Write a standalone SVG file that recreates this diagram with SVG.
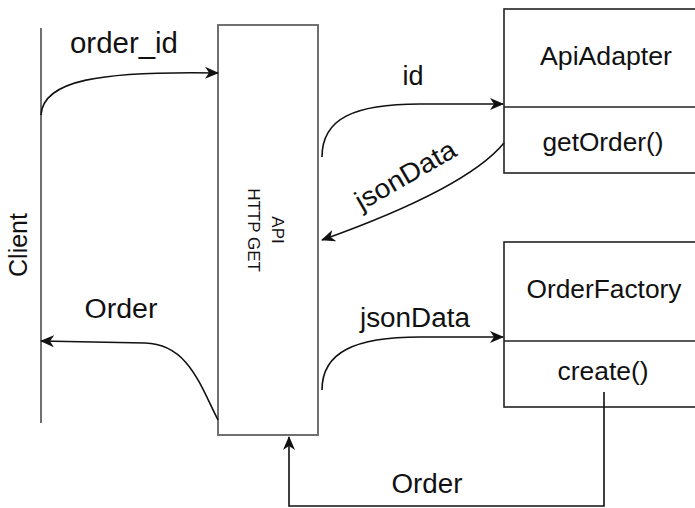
<svg xmlns="http://www.w3.org/2000/svg" width="695" height="508" viewBox="0 0 695 508">
<style>
text{font-family:"Liberation Sans",Arial,sans-serif;fill:#111}
.lbl{font-size:27px;text-anchor:middle}
.gray{fill:none;stroke:#707070;stroke-width:2}
.box{fill:#fff;stroke:#222;stroke-width:1.6}
.conn{fill:none;stroke:#111;stroke-width:1.6}
</style>
<defs>
<marker id="arr" viewBox="0 0 14 12" refX="13" refY="6" markerWidth="14" markerHeight="12" orient="auto" markerUnits="userSpaceOnUse">
<path d="M0,0 L14,6 L0,12 L4,6 Z" fill="#111"/>
</marker>
</defs>
<g id="client">
<line class="gray" x1="41" y1="28" x2="41" y2="423"/>
<text transform="translate(27,245) rotate(-90)" x="0" y="0" style="font-size:25px;text-anchor:middle">Client</text>
</g>
<g id="api">
<rect class="gray" x="218" y="25" width="100" height="410" fill="#fff"/>
<g transform="translate(260,230) rotate(90)">
<text x="0" y="-12" style="font-size:17px;text-anchor:middle">API</text>
<text x="0" y="12" style="font-size:17px;text-anchor:middle">HTTP GET</text>
</g>
</g>
<g id="apiadapter">
<rect class="box" x="504" y="9" width="260" height="164"/>
<line class="box" x1="504" y1="107" x2="764" y2="107"/>
<text class="lbl" x="606" y="65" style="font-size:25px" textLength="132" lengthAdjust="spacingAndGlyphs">ApiAdapter</text>
<text class="lbl" x="603" y="151" style="font-size:25px" textLength="121" lengthAdjust="spacingAndGlyphs">getOrder()</text>
</g>
<g id="orderfactory">
<rect class="box" x="504" y="242" width="260" height="165"/>
<line class="box" x1="504" y1="341" x2="764" y2="341"/>
<text class="lbl" x="604" y="298" style="font-size:25px" textLength="155" lengthAdjust="spacingAndGlyphs">OrderFactory</text>
<text class="lbl" x="603" y="380" style="font-size:25px" textLength="91" lengthAdjust="spacingAndGlyphs">create()</text>
</g>
<g id="connectors">
<path class="conn" d="M41,115 C43,80 100,71 218,73" marker-end="url(#arr)"/>
<text class="lbl" x="124" y="53" style="font-size:30px" textLength="108" lengthAdjust="spacingAndGlyphs">order_id</text>
<path class="conn" d="M322,157 C322,118 355,104 420,104 L503,104" marker-end="url(#arr)"/>
<text class="lbl" x="413" y="85" textLength="21" lengthAdjust="spacingAndGlyphs">id</text>
<path class="conn" d="M504,143 C480,172 420,205 322,240" marker-end="url(#arr)"/>
<text class="lbl" transform="translate(410,183) rotate(-30)" x="0" y="0" textLength="112" lengthAdjust="spacingAndGlyphs">jsonData</text>
<path class="conn" d="M322,390 C322,352 355,337 420,337 L503,337" marker-end="url(#arr)"/>
<text class="lbl" x="415" y="327" textLength="110" lengthAdjust="spacingAndGlyphs">jsonData</text>
<path class="conn" d="M218,420 C200,385 188,344 145,343 L41,341" marker-end="url(#arr)"/>
<text class="lbl" x="121" y="318" textLength="73" lengthAdjust="spacingAndGlyphs">Order</text>
<path class="conn" d="M604,392 L604,506 L289,506 L289,437" marker-end="url(#arr)"/>
<text class="lbl" x="427" y="493" textLength="71" lengthAdjust="spacingAndGlyphs">Order</text>
</g>
</svg>
